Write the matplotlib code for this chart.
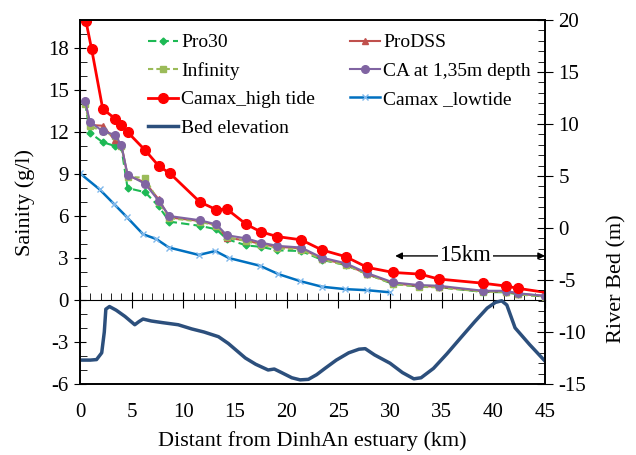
import matplotlib
matplotlib.use("Agg")
import matplotlib.pyplot as plt
from matplotlib.ticker import MultipleLocator

plt.rcParams["font.family"] = ["Liberation Serif", "DejaVu Serif"]
plt.rcParams["axes.unicode_minus"] = False

# Measurement stations (km from DinhAn estuary)
km_sim = [0.5, 0.95, 2.2, 3.4, 4.0, 4.6, 6.3, 7.6, 8.65, 11.6, 13.2, 14.2, 16.1,
          17.5, 19.1, 21.4, 23.4, 25.7, 27.8, 30.3, 32.8, 34.7, 39.0, 41.2, 42.4, 45.0]
pro30 = [14.1, 11.95, 11.27, 11.0, 10.9, 8.0, 7.7, 6.7, 5.6, 5.3, 5.05, 4.35, 3.9,
         3.8, 3.55, 3.5, 2.87, 2.5, 1.85, 1.14, 0.97, 0.92, 0.58, 0.55, 0.4, 0.25]
prodss = [14.3, 12.5, 12.45, 11.4, 11.1, 8.9, 8.4, 7.2, 5.9, 5.65, 5.35, 4.45, 4.25,
          4.0, 3.8, 3.7, 2.95, 2.55, 1.85, 1.2, 1.0, 0.95, 0.62, 0.6, 0.45, 0.28]
infinity = [14.0, 12.4, 12.1, 11.7, 11.0, 8.8, 8.73, 7.0, 5.85, 5.6, 5.3, 4.5, 4.2,
            3.95, 3.7, 3.6, 2.9, 2.5, 1.85, 1.15, 0.95, 0.9, 0.6, 0.58, 0.4, 0.25]
ca_135 = [14.2, 12.75, 12.05, 11.8, 11.05, 8.96, 8.3, 7.1, 6.0, 5.7, 5.4, 4.63, 4.4,
          4.1, 3.87, 3.75, 3.03, 2.63, 1.92, 1.26, 1.07, 1.02, 0.66, 0.66, 0.48, 0.3]

km_high = [0.58, 1.13, 2.2, 3.4, 4.0, 4.6, 6.3, 7.65, 8.7, 11.6, 13.2, 14.2, 16.1,
           17.5, 19.1, 21.4, 23.4, 25.7, 27.8, 30.3, 32.9, 34.7, 39.0, 41.2, 42.4, 45.0]
camax_high = [19.9, 17.9, 13.65, 12.95, 12.5, 12.0, 10.7, 9.55, 9.05, 7.0, 6.45, 6.5, 5.4,
              4.87, 4.53, 4.3, 3.58, 3.1, 2.33, 1.97, 1.85, 1.5, 1.2, 1.0, 0.83, 0.55]

km_low = [0.0, 1.9, 3.3, 4.5, 6.1, 7.4, 8.6, 11.5, 13.1, 14.4, 17.4, 19.2, 21.3,
          23.4, 25.6, 27.8, 30.0]
camax_low = [9.05, 7.9, 6.85, 5.95, 4.7, 4.35, 3.75, 3.22, 3.5, 3.0, 2.45, 1.85, 1.35,
             0.95, 0.78, 0.7, 0.55]

km_bed = [0.0, 1.0, 1.6, 2.1, 2.35, 2.5, 2.85, 3.5, 4.35, 5.3, 5.7, 6.1, 6.9, 8.0,
          9.5, 10.8, 12.0, 13.4, 14.35, 16.0, 17.0, 18.2, 18.8, 19.5, 20.5, 21.3,
          22.1, 22.9, 23.7, 24.8, 26.0, 27.0, 27.6, 28.5, 30.0, 31.2, 32.3, 33.0,
          34.2, 35.5, 36.8, 38.2, 39.4, 40.2, 40.8, 41.3, 41.7, 42.1, 43.5, 45.0]
bed = [-12.7, -12.7, -12.65, -12.0, -10.0, -7.8, -7.55, -7.9, -8.5, -9.3, -9.0, -8.75,
       -8.94, -9.1, -9.3, -9.7, -10.0, -10.45, -11.1, -12.5, -13.1, -13.65, -13.56,
       -13.9, -14.4, -14.6, -14.55, -14.1, -13.5, -12.7, -12.0, -11.65, -11.6, -12.2,
       -13.0, -13.9, -14.5, -14.4, -13.5, -12.1, -10.6, -9.0, -7.7, -7.15, -7.0, -7.4,
       -8.5, -9.6, -11.2, -12.8]

fig = plt.figure(figsize=(6.36, 4.55), dpi=100)
ax = fig.add_axes([0.1258, 0.156, 0.7312, 0.800])
ax2 = ax.twinx()

l_pro30, = ax.plot(km_sim, pro30, color="#1DB954", ls=(0, (4, 2)), lw=1.5,
                   marker="D", ms=3.5, label="Pro30")
l_prodss, = ax.plot(km_sim, prodss, color="#C0504D", lw=1.5,
                    marker="^", ms=5, label="ProDSS")
l_inf, = ax.plot(km_sim, infinity, color="#9BBB59", ls=(0, (2.5, 1.5)), lw=1.5,
                 marker="s", ms=5, label="Infinity")
l_ca, = ax.plot(km_sim, ca_135, color="#8064A2", lw=1.5,
                marker="o", ms=5.5, label="CA at 1,35m depth")
l_high, = ax.plot(km_high, camax_high, color="#FF0000", lw=2,
                  marker="o", ms=7, markevery=list(range(len(km_high) - 1)),
                  label="Camax_high tide")
l_low, = ax.plot(km_low, camax_low, color="#0070C0", lw=1.8, marker="x", ms=4,
                 mec="#7FB8EC", mew=1, label="Camax _lowtide")
l_bed, = ax2.plot(km_bed, bed, color="#2C4F7C", lw=2.5, label="Bed elevation")

ax.set_xlim(0, 45)
ax.set_ylim(-6, 20)
ax2.set_ylim(-15, 20)

ax.xaxis.set_major_locator(MultipleLocator(5))
ax.tick_params(axis="x", which="both", length=0, labelsize=15, pad=14)
ax.yaxis.set_major_locator(MultipleLocator(3))
ax.yaxis.set_minor_locator(MultipleLocator(1))
ax.tick_params(axis="y", which="major", direction="inout", length=9, labelsize=15)
ax.tick_params(axis="y", which="minor", direction="in", length=5)

ax2.yaxis.set_major_locator(MultipleLocator(5))
ax2.yaxis.set_minor_locator(MultipleLocator(1))
ax2.tick_params(axis="y", which="major", direction="inout", length=12, labelsize=15)
ax2.tick_params(axis="y", which="minor", direction="in", length=5)

# x axis line with ticks at salinity = 0
mid = ax.secondary_xaxis(6 / 26)
mid.xaxis.set_major_locator(MultipleLocator(5))
mid.xaxis.set_minor_locator(MultipleLocator(1))
mid.tick_params(axis="x", which="major", direction="inout", length=12, labelbottom=False,
                labeltop=False)
mid.tick_params(axis="x", which="minor", direction="in", length=5)
mid.set_xticklabels([])

for a in (ax, ax2):
    for s in a.spines.values():
        s.set_color("black")
        s.set_linewidth(1.2)

ax.set_xlabel("Distant from DinhAn estuary (km)", fontsize=16, labelpad=6)
ax.set_ylabel("Sainity (g/l)", fontsize=16)
ax.yaxis.set_label_coords(-0.097, 0.5)
ax2.set_ylabel("River Bed (m)", fontsize=16)
ax2.yaxis.set_label_coords(1.133, 0.29)

# 15km annotation
ax.annotate("", xy=(30.5, 3.15), xytext=(45, 3.15),
            arrowprops=dict(arrowstyle="<|-|>", color="black", lw=1,
                            shrinkA=0, shrinkB=0, mutation_scale=10))
ax.text(37.3, 3.15, "15km", fontsize=16.5, ha="center", va="center",
        bbox=dict(facecolor="white", edgecolor="none", pad=1))

handles = [l_pro30, l_inf, l_high, l_bed, l_prodss, l_ca, l_low]
leg = ax2.legend(handles=handles, ncol=2, loc="upper left", bbox_to_anchor=(0.146, 0.962),
                 frameon=False, fontsize=14, handlelength=1.55, handletextpad=0.15,
                 columnspacing=1.8, labelspacing=0.55, borderaxespad=0, borderpad=0)

fig.savefig("out.png", dpi=100)
